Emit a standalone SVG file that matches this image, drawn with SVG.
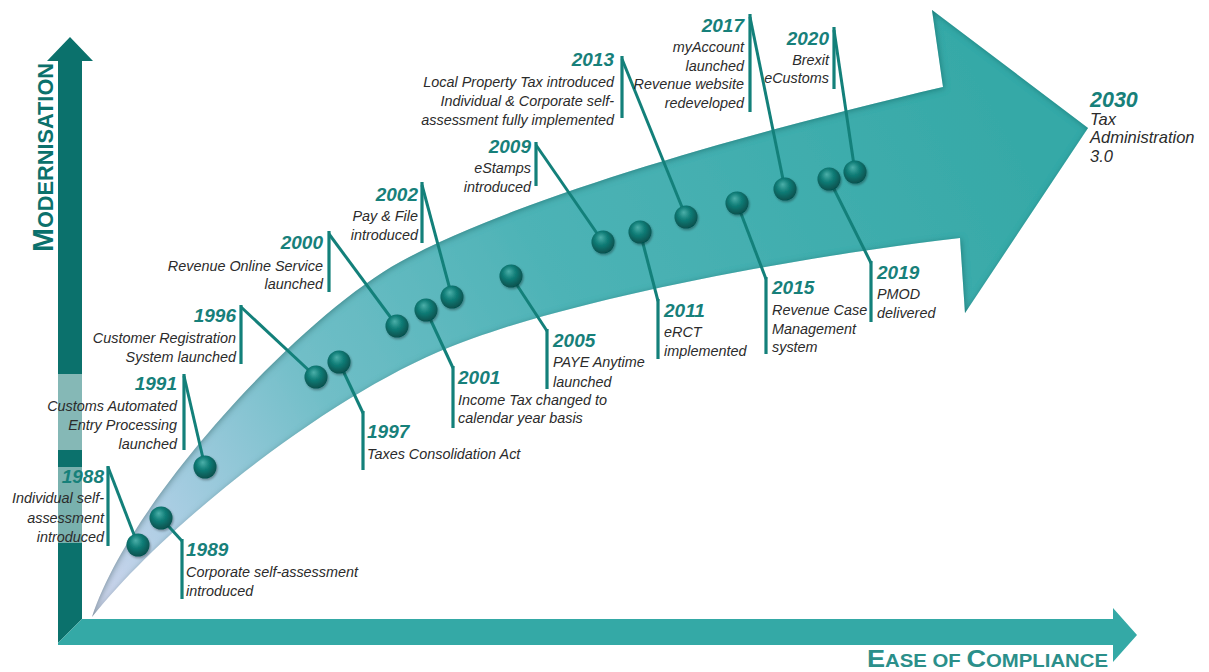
<svg xmlns="http://www.w3.org/2000/svg" width="1209" height="672" viewBox="0 0 1209 672">
<style>
.yr{font-family:"Liberation Sans",Arial,sans-serif;font-weight:bold;font-style:italic;font-size:19px;fill:#17807a}
.tx{font-family:"Liberation Sans",Arial,sans-serif;font-style:italic;font-size:14.4px;fill:#2b2b2b}
.r{text-anchor:end}
.cl{stroke:#13807a;stroke-width:3;fill:none}
.bar{stroke:#13807a;stroke-width:3.2}
.ball{fill:url(#ballG);filter:url(#bs)}
</style>
<defs>
<linearGradient id="bandG" gradientUnits="userSpaceOnUse" x1="92" y1="617" x2="1000" y2="120">
<stop offset="0" stop-color="#d2d6ee"/>
<stop offset="0.12" stop-color="#a8cde2"/>
<stop offset="0.3" stop-color="#70bec7"/>
<stop offset="0.55" stop-color="#4db3b6"/>
<stop offset="1" stop-color="#36a9a7"/>
</linearGradient>
<radialGradient id="ballG" cx="0.45" cy="0.4" r="0.6" fx="0.4" fy="0.3">
<stop offset="0" stop-color="#4cafa9"/>
<stop offset="0.45" stop-color="#127f79"/>
<stop offset="1" stop-color="#06504d"/>
</radialGradient>
<filter id="inner" x="-5%" y="-5%" width="110%" height="110%">
<feComponentTransfer in="SourceAlpha"><feFuncA type="table" tableValues="1 0"/></feComponentTransfer>
<feGaussianBlur stdDeviation="3"/>
<feOffset dx="1" dy="1" result="ob"/>
<feFlood flood-color="#0a5c58" flood-opacity="0.7"/>
<feComposite in2="ob" operator="in"/>
<feComposite in2="SourceAlpha" operator="in" result="sh"/>
<feMerge><feMergeNode in="SourceGraphic"/><feMergeNode in="sh"/></feMerge>
</filter>
<filter id="bs" x="-30%" y="-30%" width="160%" height="160%">
<feDropShadow dx="1" dy="1.5" stdDeviation="1.2" flood-color="#000" flood-opacity="0.35"/>
</filter>
</defs>

<g id="axes">
<polygon points="58,61 47,61 70,37 93,61 82,61 82,619 58,643" fill="#0b716c"/>
<polygon points="58,643 82,619 1113,619 1113,608 1137,635 1113,662 1113,645 58,645" fill="#34a9a6"/>
<text x="53" y="252" transform="rotate(-90 53 252)" font-family="'Liberation Sans',Arial,sans-serif" font-weight="bold" fill="#0b716c" textLength="189" lengthAdjust="spacingAndGlyphs"><tspan font-size="29">M</tspan><tspan font-size="22">ODERNISATION</tspan></text>
<text x="867" y="667" font-family="'Liberation Sans',Arial,sans-serif" font-weight="bold" fill="#2b8f8a" textLength="241" lengthAdjust="spacingAndGlyphs"><tspan font-size="24">E</tspan><tspan font-size="18">ASE OF </tspan><tspan font-size="24">C</tspan><tspan font-size="18">OMPLIANCE</tspan></text>
</g>

<g id="label-boxes">
<rect x="12" y="374" width="168" height="76" fill="#fff" opacity="0.5"/>
<rect x="10" y="467" width="96" height="76" fill="#fff" opacity="0.45"/>
</g>

<g id="timeline-arrow">
<path d="M92,617 C130,500 300,317 400,262 C520,196 760,130 943,87 L932,10 L1088,128 L965,313 L960,238 C790,258 570,299 450,347 C330,395 170,520 92,617 Z" fill="url(#bandG)" filter="url(#inner)"/>
</g>

<g id="connectors">
<line class="cl" x1="108" y1="467" x2="138" y2="545"/><line class="bar" x1="108" y1="466" x2="108" y2="546"/>
<line class="cl" x1="161" y1="518" x2="182" y2="541"/><line class="bar" x1="182" y1="539" x2="182" y2="599"/>
<line class="cl" x1="184" y1="376" x2="205" y2="467"/><line class="bar" x1="184" y1="374" x2="184" y2="450"/>
<line class="cl" x1="241" y1="307" x2="316" y2="377"/><line class="bar" x1="241" y1="305" x2="241" y2="364"/>
<line class="cl" x1="339" y1="362" x2="363" y2="413"/><line class="bar" x1="363" y1="411" x2="363" y2="470"/>
<line class="cl" x1="329" y1="234" x2="397" y2="326"/><line class="bar" x1="329" y1="231" x2="329" y2="292"/>
<line class="cl" x1="426" y1="310" x2="453" y2="368"/><line class="bar" x1="453" y1="366" x2="453" y2="428"/>
<line class="cl" x1="422" y1="185" x2="452" y2="297"/><line class="bar" x1="422" y1="182" x2="422" y2="243"/>
<line class="cl" x1="511" y1="276" x2="547" y2="331"/><line class="bar" x1="547" y1="329" x2="547" y2="389"/>
<line class="cl" x1="536" y1="145" x2="603" y2="242"/><line class="bar" x1="536" y1="142" x2="536" y2="186"/>
<line class="cl" x1="640" y1="232" x2="658" y2="301"/><line class="bar" x1="658" y1="299" x2="658" y2="359"/>
<line class="cl" x1="622" y1="59" x2="686" y2="217"/><line class="bar" x1="622" y1="56" x2="622" y2="118"/>
<line class="cl" x1="737" y1="203" x2="766" y2="279"/><line class="bar" x1="766" y1="277" x2="766" y2="354"/>
<line class="cl" x1="750" y1="17" x2="785" y2="189"/><line class="bar" x1="750" y1="14" x2="750" y2="112"/>
<line class="cl" x1="829" y1="179" x2="871" y2="263"/><line class="bar" x1="871" y1="261" x2="871" y2="322"/>
<line class="cl" x1="834" y1="30" x2="855" y2="172"/><line class="bar" x1="834" y1="27" x2="834" y2="89"/>
</g>

<g id="n1988"><circle class="ball" cx="138" cy="545" r="11.5"/>
<text class="yr r" x="104" y="483">1988</text>
<text class="tx r" x="104" y="503">Individual self-</text><text class="tx r" x="104" y="523">assessment</text><text class="tx r" x="104" y="542">introduced</text></g>

<g id="n1989"><circle class="ball" cx="161" cy="518" r="11.5"/>
<text class="yr" x="186" y="556">1989</text>
<text class="tx" x="186" y="577">Corporate self-assessment</text><text class="tx" x="186" y="596">introduced</text></g>

<g id="n1991"><circle class="ball" cx="205" cy="467" r="11.5"/>
<text class="yr r" x="177" y="390">1991</text>
<text class="tx r" x="177" y="411">Customs Automated</text><text class="tx r" x="177" y="430">Entry Processing</text><text class="tx r" x="177" y="449">launched</text></g>

<g id="n1996"><circle class="ball" cx="316" cy="377" r="11.5"/>
<text class="yr r" x="236" y="322">1996</text>
<text class="tx r" x="236" y="343">Customer Registration</text><text class="tx r" x="236" y="362">System launched</text></g>

<g id="n1997"><circle class="ball" cx="339" cy="362" r="11.5"/>
<text class="yr" x="367" y="438">1997</text>
<text class="tx" x="367" y="459">Taxes Consolidation Act</text></g>

<g id="n2000"><circle class="ball" cx="397" cy="326" r="11.5"/>
<text class="yr r" x="323" y="249">2000</text>
<text class="tx r" x="323" y="271">Revenue Online Service</text><text class="tx r" x="323" y="289">launched</text></g>

<g id="n2001"><circle class="ball" cx="426" cy="310" r="11.5"/>
<text class="yr" x="458" y="384">2001</text>
<text class="tx" x="458" y="405">Income Tax changed to</text><text class="tx" x="458" y="423">calendar year basis</text></g>

<g id="n2002"><circle class="ball" cx="452" cy="297" r="11.5"/>
<text class="yr r" x="418" y="201">2002</text>
<text class="tx r" x="418" y="221">Pay &amp; File</text><text class="tx r" x="418" y="240">introduced</text></g>

<g id="n2005"><circle class="ball" cx="511" cy="276" r="11.5"/>
<text class="yr" x="553" y="347">2005</text>
<text class="tx" x="553" y="367">PAYE Anytime</text><text class="tx" x="553" y="387">launched</text></g>

<g id="n2009"><circle class="ball" cx="603" cy="242" r="11.5"/>
<text class="yr r" x="531" y="153">2009</text>
<text class="tx r" x="531" y="173">eStamps</text><text class="tx r" x="531" y="192">introduced</text></g>

<g id="n2011"><circle class="ball" cx="640" cy="232" r="11.5"/>
<text class="yr" x="664" y="317">2011</text>
<text class="tx" x="664" y="337">eRCT</text><text class="tx" x="664" y="356">implemented</text></g>

<g id="n2013"><circle class="ball" cx="686" cy="217" r="11.5"/>
<text class="yr r" x="614" y="66">2013</text>
<text class="tx r" x="614" y="87">Local Property Tax introduced</text><text class="tx r" x="614" y="106">Individual &amp; Corporate self-</text><text class="tx r" x="614" y="125">assessment fully implemented</text></g>

<g id="n2015"><circle class="ball" cx="737" cy="203" r="11.5"/>
<text class="yr" x="772" y="294">2015</text>
<text class="tx" x="772" y="315">Revenue Case</text><text class="tx" x="772" y="334">Management</text><text class="tx" x="772" y="352">system</text></g>

<g id="n2017"><circle class="ball" cx="785" cy="189" r="11.5"/>
<text class="yr r" x="744" y="32">2017</text>
<text class="tx r" x="744" y="52">myAccount</text><text class="tx r" x="744" y="71">launched</text><text class="tx r" x="744" y="89">Revenue website</text><text class="tx r" x="744" y="108">redeveloped</text></g>

<g id="n2019"><circle class="ball" cx="829" cy="179" r="11.5"/>
<text class="yr" x="877" y="279">2019</text>
<text class="tx" x="877" y="299">PMOD</text><text class="tx" x="877" y="318">delivered</text></g>

<g id="n2020"><circle class="ball" cx="855" cy="172" r="11.5"/>
<text class="yr r" x="829" y="45">2020</text>
<text class="tx r" x="829" y="65">Brexit</text><text class="tx r" x="829" y="83">eCustoms</text></g>

<g id="n2030">
<text class="yr" x="1090" y="107" style="font-size:21.5px">2030</text>
<text class="tx" x="1090" y="125" style="font-size:16.5px">Tax</text><text class="tx" x="1090" y="143" style="font-size:16.5px">Administration</text><text class="tx" x="1090" y="162" style="font-size:16.5px">3.0</text></g>
</svg>
